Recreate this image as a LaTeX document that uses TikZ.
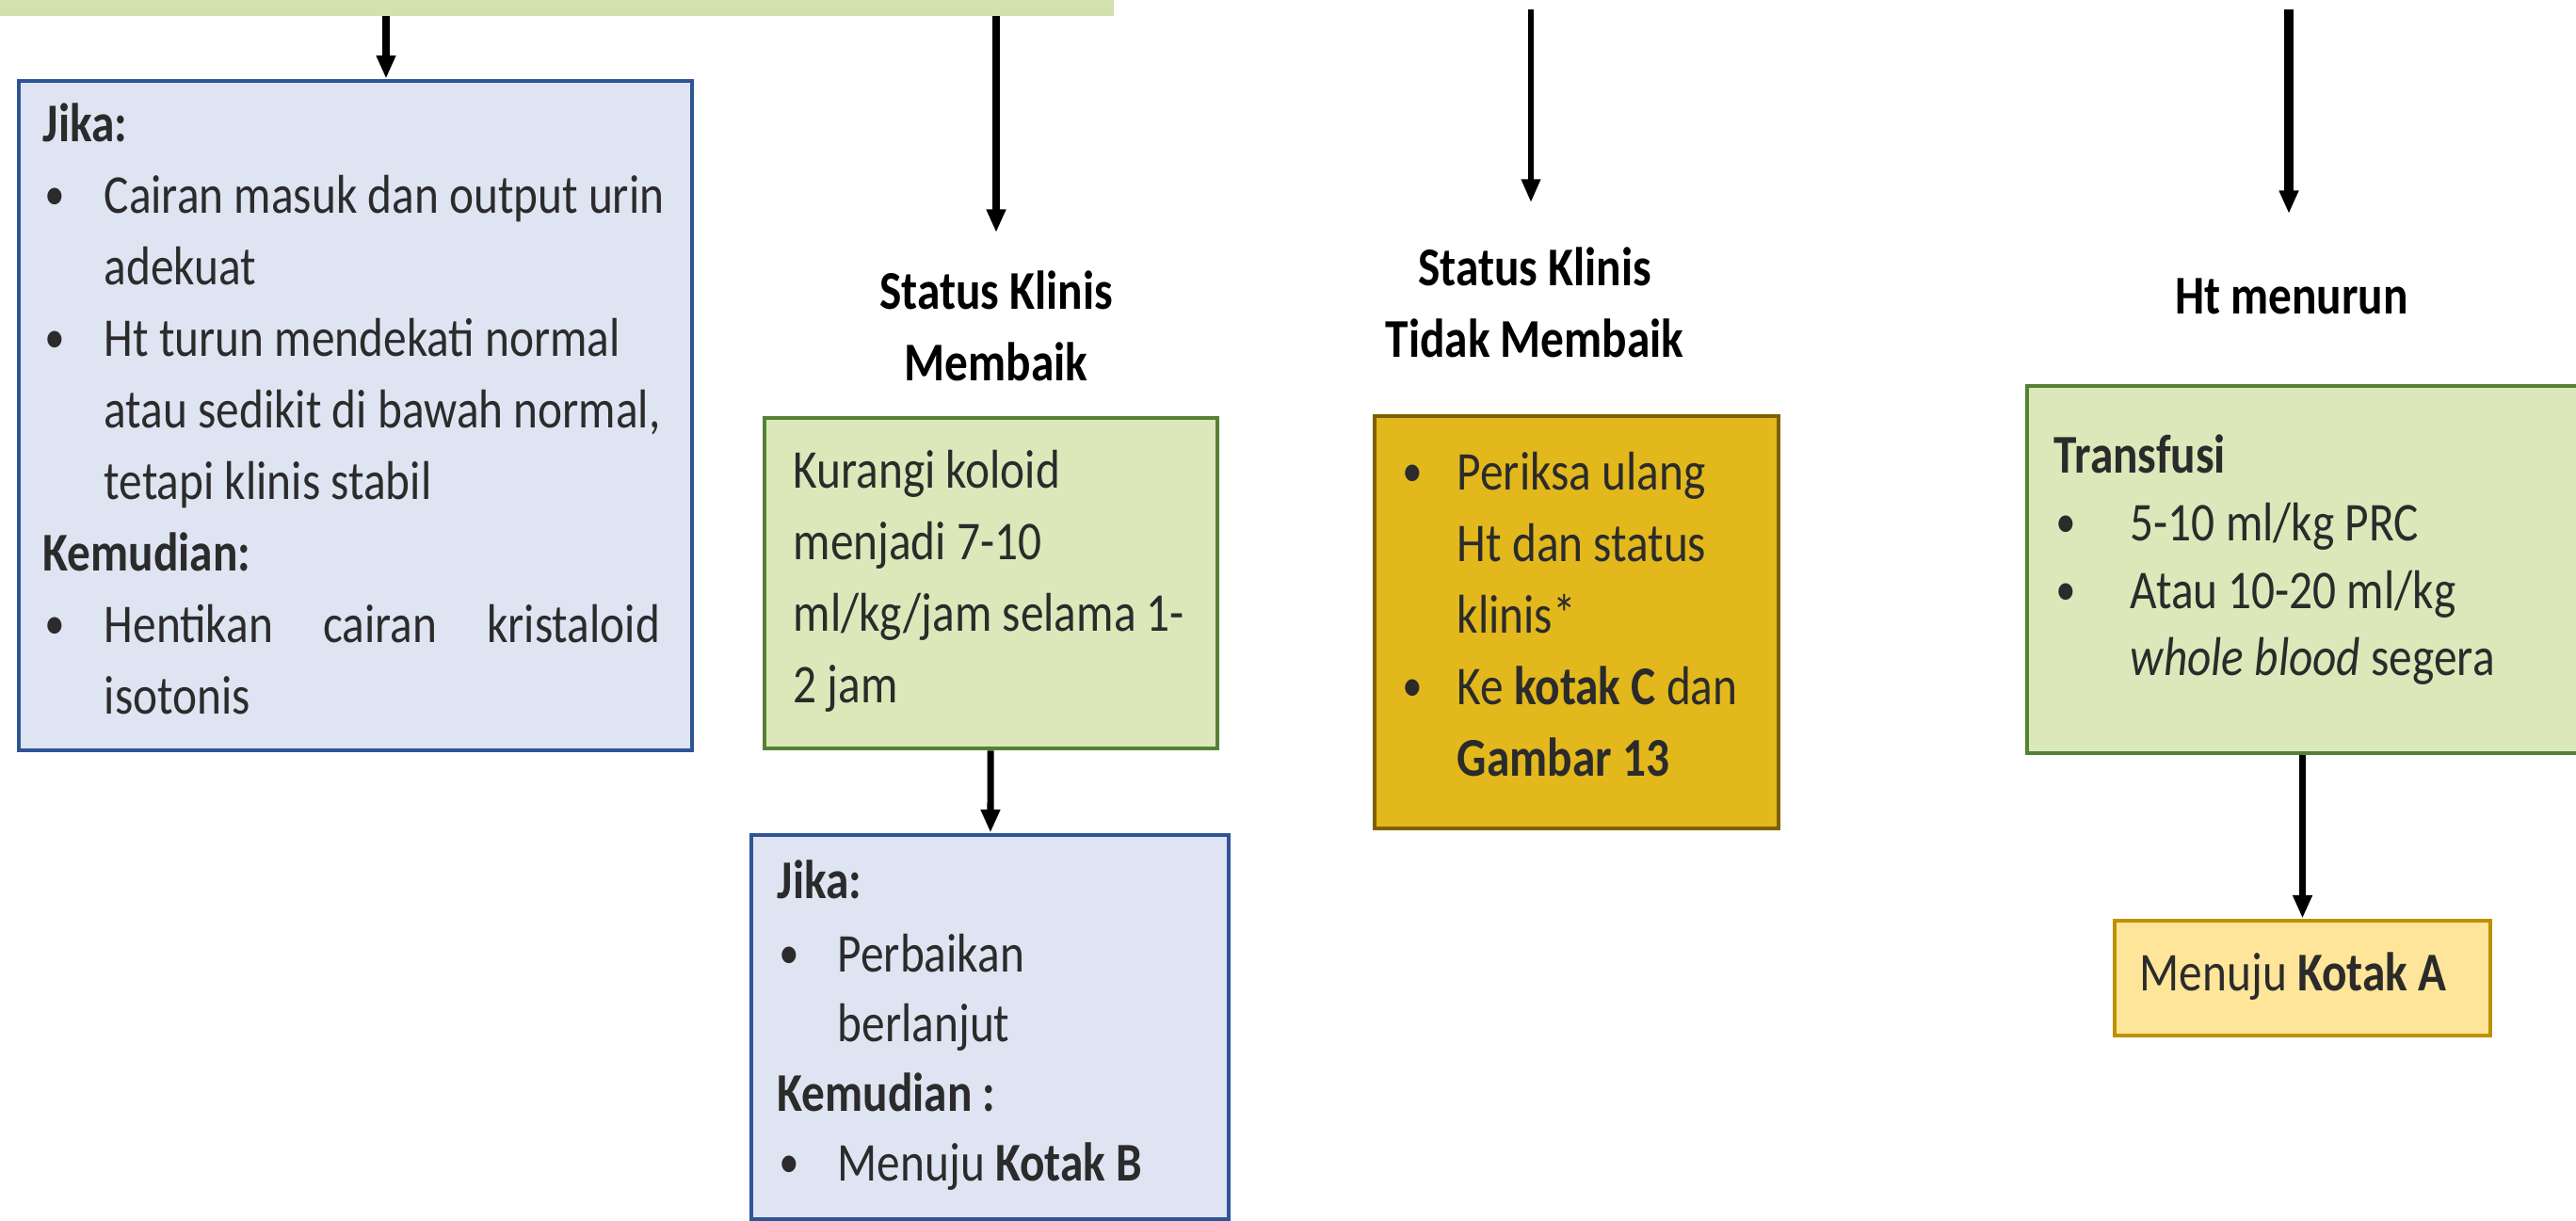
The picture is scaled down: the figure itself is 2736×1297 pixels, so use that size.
\documentclass[tikz,border=0pt]{standalone}
\usepackage{fontspec}
\setmainfont{Carlito}[FakeStretch=0.85]
\usepackage{xcolor}
\usepackage{tikz}
\usetikzlibrary{fit,arrows.meta,positioning}

\definecolor{barhijau}{HTML}{D3E1B1}
\definecolor{isibiru}{HTML}{DEE4F1}
\definecolor{garisbiru}{HTML}{2F5496}
\definecolor{isihijau}{HTML}{DCE8BA}
\definecolor{garishijau}{HTML}{548235}
\definecolor{isiemas}{HTML}{E2B81C}
\definecolor{garisemas}{HTML}{7F6000}
\definecolor{isikuning}{HTML}{FEE599}
\definecolor{gariskuning}{HTML}{BF9000}
\definecolor{teks}{HTML}{2B2B2B}

\newcommand{\bodyfont}{\fontsize{16.5}{21.6}\selectfont}
\newcommand{\titik}{\raisebox{0.06cm}{\scalebox{0.72}{\textbf{\textbullet}}}}
\newcommand{\bul}[1][0.65cm]{\makebox[#1][l]{\hspace{0.04cm}\titik}}
\newcommand{\ind}[1][0.65cm]{\hspace*{#1}}
\newcommand{\topstrut}{\rule{0pt}{0.44cm}}

\tikzset{
  kotak/.style   = {draw, line width=1.4pt, inner sep=0pt},
  kbiru/.style   = {kotak, draw=garisbiru, fill=isibiru},
  khijau/.style  = {kotak, draw=garishijau, fill=isihijau},
  kemas/.style   = {kotak, draw=garisemas, fill=isiemas},
  kkuning/.style = {kotak, draw=gariskuning, fill=isikuning},
  isi/.style     = {anchor=north west, inner sep=0pt, align=left,
                    font=\bodyfont, text=teks},
  judul/.style   = {anchor=north, inner sep=0pt, align=center,
                    font=\bodyfont\bfseries},
  panah/.style   = {-{Triangle[length=7pt,width=5.5pt]}, line width=2pt},
}

\begin{document}
\begin{tikzpicture}[x=0.01cm, y=-0.01cm]
\useasboundingbox (0,0) rectangle (2736,1297);
\clip (0,0) rectangle (2736,1297);

% bar di atas
\node[fill=barhijau, inner sep=0pt, fit={(0,0) (1183,17)}] (bar) {};

% kotak
\node[kbiru, fit={(20,86) (735,797)}]      (k1) {};
\node[khijau, fit={(812,444) (1293,795)}]  (k2) {};
\node[kbiru, fit={(798,887) (1305,1295)}]  (k3) {};
\node[kemas, fit={(1460,442) (1889,880)}]  (k4) {};
\node[khijau, fit={(2153,410) (2780,800)}] (k5) {};
\node[kkuning, fit={(2246,978) (2645,1100)}] (k6) {};

% isi kotak
\node[isi] (t1) at (45,106) {\topstrut\textbf{Jika:}\\
  \bul Cairan masuk dan output urin\\
  \ind adekuat\\
  \bul Ht turun mendekati normal\\
  \ind atau sedikit di bawah normal,\\
  \ind tetapi klinis stabil\\
  \textbf{Kemudian:}\\
  \bul\makebox[5.9cm][s]{Hentikan cairan kristaloid}\\
  \ind isotonis};
\node[isi] (t2) at (842,474) {\topstrut Kurangi koloid\\
  menjadi 7-10\\
  ml/kg/jam selama 1-\\
  2 jam};
\node[isi, font=\fontsize{16.5}{21}\selectfont] (t3) at (825,910) {\topstrut\textbf{Jika:}\\[0.04cm]
  \bul[0.64cm]Perbaikan\\
  \ind[0.64cm]berlanjut\\
  \textbf{Kemudian :}\\
  \bul[0.64cm]Menuju \textbf{Kotak B}};
\node[isi] (t4) at (1487,476) {\topstrut\bul[0.6cm]Periksa ulang\\
  \ind[0.6cm]Ht dan status\\
  \ind[0.6cm]klinis*\\
  \bul[0.6cm]Ke \textbf{kotak C} dan\\
  \ind[0.6cm]\textbf{Gambar 13}};
\node[isi, font=\fontsize{16.5}{20.4}\selectfont] (t5) at (2181,458) {\topstrut\textbf{Transfusi}\\
  \bul[0.81cm]5-10 ml/kg PRC\\
  \bul[0.81cm]Atau 10-20 ml/kg\\
  \ind[0.81cm]\textit{whole blood} segera};
\node[isi] (t6) at (2272,1008) {\topstrut Menuju \textbf{Kotak A}};

% label status
\node[judul] (l2) at (1058,284) {\topstrut Status Klinis\\Membaik};
\node[judul] (l4) at (1630,259) {\topstrut Status Klinis\\Tidak Membaik};
\node[judul] (l5) at (2434,289) {\topstrut Ht menurun};

% panah
\coordinate (s1) at (410,17);
\coordinate (s2) at (1058,17);
\coordinate (s4) at (1626,10);
\coordinate (s5) at (2431,10);
\draw[panah] (s1) -- (s1 |- k1.north);
\draw[panah, shorten >=0.37cm] (s2) -- (s2 |- l2.north);
\draw[panah, line width=1.6pt, shorten >=0.44cm] (s4) -- (s4 |- l4.north);
\draw[panah, line width=2.6pt, shorten >=0.62cm] (s5) -- (s5 |- l5.north);
\draw[panah] (k2) -- (k3);
\draw[panah] (k6.north |- k5.south) -- (k6);
\end{tikzpicture}
\end{document}
